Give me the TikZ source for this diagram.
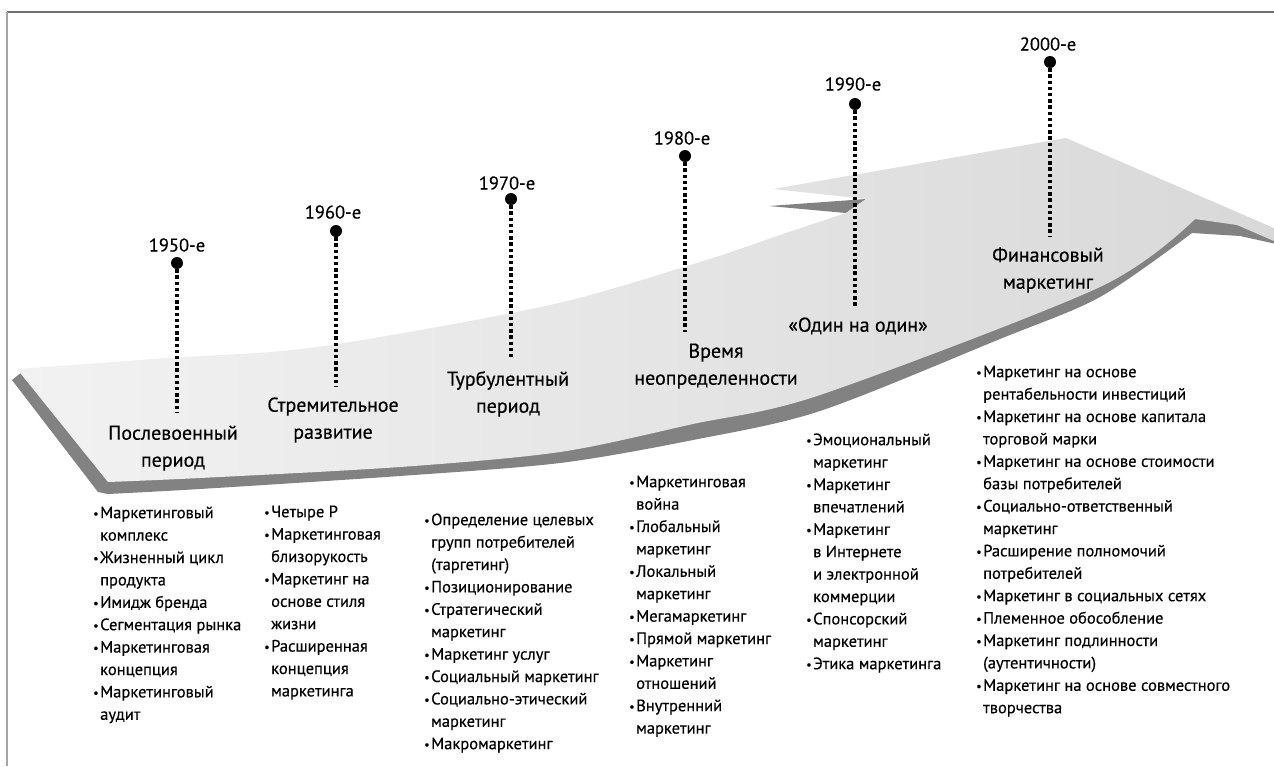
\documentclass[tikz,border=0pt]{standalone}
\usepackage{fontspec}
\setmainfont{PT Sans}[FakeBold=0.35]
\definecolor{facel}{HTML}{F2F2F2}
\definecolor{facer}{HTML}{D8D8D8}
\definecolor{edgegray}{HTML}{828282}
\definecolor{frametop}{HTML}{6E6E6E}
\definecolor{frameleft}{HTML}{A5A5A5}
\newcommand\mybul{\makebox[7pt][l]{\fontsize{12}{12}\selectfont\raisebox{0.5pt}{•}}}
\newcommand\myind{\hspace*{7pt}}
\newcommand\myfirst{\rule{0pt}{15pt}}
\begin{document}
\begin{tikzpicture}[x=1pt,y=-1pt,
  yearlbl/.style={font=\fontsize{18.5}{20}\selectfont, anchor=base, inner sep=0},
  pin/.style={circle, fill=black, minimum size=12pt, inner sep=0},
  dotline/.style={line width=3.4pt, dash pattern=on 3.4pt off 2.8pt, black},
  ttl/.style={font=\fontsize{20}{27}\selectfont, align=center, anchor=north, inner sep=0},
  lst/.style={font=\fontsize{16.5}{22.4}\selectfont, align=left, anchor=north west, inner sep=0}]
\useasboundingbox (0,0) rectangle (1274,766);
\begin{scope}
\clip (0,0) rectangle (1274,766);
% dark edge of the band
\fill[edgegray] (12,380) -- (98,492) -- plot[smooth] coordinates {(108,494) (200,489) (400,476) (560,463) (693,440) (820,411) (1000,339) (1100,297) (1192,233)}
  -- (1240,236) -- (1290,247) -- (1290,238) -- (1237,222) -- (1195,215)
  -- plot[smooth] coordinates {(1100,281) (820,389) (560,446) (400,461) (200,472) (112,474)} -- (22,372) -- cycle;
% dark sliver at the fold
\fill[edgegray] (769,206) -- (866,199) -- (846,213) -- cycle;
% light face of the band
\shade[left color=facel, right color=facer]
  plot[smooth] coordinates {(17,369) (167,358) (317,347) (550,305) (700,262) (780,235) (846,213)}
  -- (866,199) -- (773,189) -- (1066,138) -- (1290,235) -- (1290,248) -- (1237,225)
  -- plot[smooth] coordinates {(1195,219) (1100,287) (820,395) (693,424) (560,452) (400,467) (200,478) (108,482)} -- cycle;
\end{scope}
% frame
\draw[frametop, line width=1.2pt] (7,12) -- (1274,12);
\draw[frameleft, line width=2.2pt] (7,12) -- (7,766);
% pins and dotted lines
\node[pin] (p1) at (177,263) {};
\node[pin] (p2) at (336,231) {};
\node[pin] (p3) at (511,199) {};
\node[pin] (p4) at (685,156) {};
\node[pin] (p5) at (855,104) {};
\node[pin] (p6) at (1050,62) {};
\coordinate (e1) at (177,413);
\coordinate (e2) at (336,387);
\coordinate (e3) at (511,360);
\coordinate (e4) at (685,332);
\coordinate (e5) at (855,307);
\coordinate (e6) at (1050,236);
\foreach \i in {1,...,6} {\draw[dotline] (p\i.south) -- (e\i);}
% year labels
\node[yearlbl] (y1) at (177,251.5) {1950-е};
\node[yearlbl] (y2) at (333,218.5) {1960-е};
\node[yearlbl] (y3) at (507,189.5) {1970-е};
\node[yearlbl] (y4) at (682,144.5) {1980-е};
\node[yearlbl] (y5) at (853,90.5) {1990-е};
\node[yearlbl] (y6) at (1048,50.5) {2000-е};
% period titles
\node[ttl] (t1) at (173,424.5) {\myfirst Послевоенный\\период};
\node[ttl] (t2) at (333,396.5) {\myfirst Стремительное\\развитие};
\node[ttl] (t3) at (508,370.5) {\myfirst Турбулентный\\период};
\node[ttl] (t4) at (716,342.5) {\myfirst Время\\неопределенности};
\node[ttl] (t5) at (858,316.5) {\myfirst «Один на один»};
\node[ttl] (t6) at (1048,246.5) {\myfirst Финансовый\\маркетинг};
% lists
\node[lst] (l1) at (93,503) {\myfirst\mybul Маркетинговый\\\myind комплекс\\\mybul Жизненный цикл\\\myind продукта\\\mybul Имидж бренда\\\mybul Сегментация рынка\\\mybul Маркетинговая\\\myind концепция\\\mybul Маркетинговый\\\myind аудит};
\node[lst] (l2) at (264,502) {\myfirst\mybul Четыре Р\\\mybul Маркетинговая\\\myind близорукость\\\mybul Маркетинг на\\\myind основе стиля\\\myind жизни\\\mybul Расширенная\\\myind концепция\\\myind маркетинга};
\node[lst] (l3) at (424,510) {\myfirst\mybul Определение целевых\\\myind групп потребителей\\\myind (таргетинг)\\\mybul Позиционирование\\\mybul Стратегический\\\myind маркетинг\\\mybul Маркетинг услуг\\\mybul Социальный маркетинг\\\mybul Социально-этический\\\myind маркетинг\\\mybul Макромаркетинг};
\node[lst] (l4) at (629,472) {\myfirst\mybul Маркетинговая\\\myind война\\\mybul Глобальный\\\myind маркетинг\\\mybul Локальный\\\myind маркетинг\\\mybul Мегамаркетинг\\\mybul Прямой маркетинг\\\mybul Маркетинг\\\myind отношений\\\mybul Внутренний\\\myind маркетинг};
\node[lst] (l5) at (806,430) {\myfirst\mybul Эмоциональный\\\myind маркетинг\\\mybul Маркетинг\\\myind впечатлений\\\mybul Маркетинг\\\myind в Интернете\\\myind и электронной\\\myind коммерции\\\mybul Спонсорский\\\myind маркетинг\\\mybul Этика маркетинга};
\node[lst] (l6) at (976,362) {\myfirst\mybul Маркетинг на основе\\\myind рентабельности инвестиций\\\mybul Маркетинг на основе капитала\\\myind торговой марки\\\mybul Маркетинг на основе стоимости\\\myind базы потребителей\\\mybul Социально-ответственный\\\myind маркетинг\\\mybul Расширение полномочий\\\myind потребителей\\\mybul Маркетинг в социальных сетях\\\mybul Племенное обособление\\\mybul Маркетинг подлинности\\\myind (аутентичности)\\\mybul Маркетинг на основе совместного\\\myind творчества};
\end{tikzpicture}
\end{document}
